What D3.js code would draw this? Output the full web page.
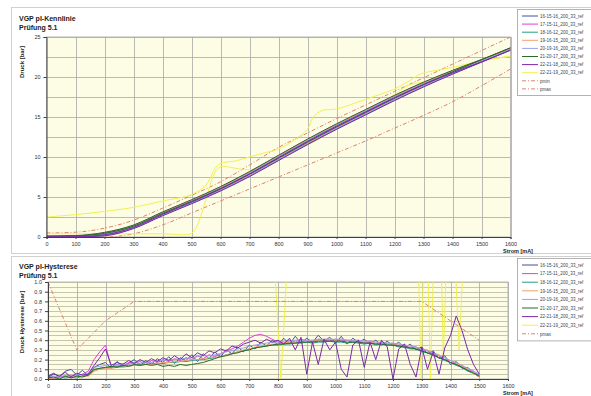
<!DOCTYPE html>
<html>
<head>
<meta charset="utf-8">
<script src="https://cdn.jsdelivr.net/npm/d3@7"></script>
<style>
  body { margin: 0; background: #fff; }
  svg { display: block; font-family: "Liberation Sans", Arial, sans-serif; }
</style>
</head>
<body>
<svg id="chart" width="591" height="396"></svg>
<script>
// ---- data ----
const seriesNames = ["16-15-16_200_33_ref", "17-15-11_200_33_ref", "18-16-12_200_33_ref",
  "19-16-15_200_33_ref", "20-19-16_200_33_ref", "21-20-17_200_33_ref",
  "22-21-18_200_33_ref", "22-21-19_200_33_ref"];
const seriesColors = ["#4050a0", "#e040d8", "#20a080", "#f0a070", "#9aa0e8", "#2a6a2a", "#7a28a8", "#f0f050"];
const limitColor = "#e0806a";

// top chart: pressure [bar] vs current [mA], rising and falling branch
const stromTop = [0, 100, 200, 300, 400, 500, 600, 700, 800, 900, 1000, 1100, 1200, 1300, 1400, 1500, 1600];
const upTop = [
  [0.0, 0.05, 0.3, 1.2, 2.8, 4.3, 5.9, 7.7, 9.7, 11.7, 13.6, 15.4, 17.2, 18.9, 20.5, 22.0, 23.5],
  [0.05, 0.1, 0.4, 1.3, 2.9, 4.4, 6.0, 7.8, 9.8, 11.8, 13.7, 15.5, 17.3, 19.0, 20.6, 22.1, 23.6],
  [0.0, 0.0, 0.2, 1.1, 2.7, 4.2, 5.8, 7.6, 9.6, 11.6, 13.5, 15.3, 17.1, 18.8, 20.4, 21.9, 23.4],
  [0.0, 0.05, 0.3, 1.25, 2.85, 4.35, 5.95, 7.75, 9.75, 11.75, 13.65, 15.45, 17.25, 18.95, 20.55, 22.05, 23.55],
  [0.0, 0.0, 0.25, 1.15, 2.75, 4.25, 5.85, 7.65, 9.65, 11.65, 13.55, 15.35, 17.15, 18.85, 20.45, 21.95, 23.45],
  [0.1, 0.15, 0.45, 1.35, 2.95, 4.45, 6.05, 7.85, 9.85, 11.85, 13.75, 15.55, 17.35, 19.05, 20.65, 22.15, 23.65],
  [0.0, 0.0, 0.15, 1.05, 2.65, 4.15, 5.75, 7.55, 9.55, 11.55, 13.45, 15.25, 17.05, 18.75, 20.35, 21.85, 23.35]
];
const downTop = [
  [0.02, 0.08, 0.43, 1.35, 2.98, 4.51, 6.15, 8.03, 10.07, 12.09, 14.0, 15.78, 17.56, 19.2, 20.68, 22.04, 23.5],
  [0.07, 0.13, 0.53, 1.45, 3.08, 4.61, 6.25, 8.13, 10.17, 12.19, 14.1, 15.88, 17.66, 19.3, 20.78, 22.14, 23.6],
  [0.02, 0.03, 0.33, 1.25, 2.88, 4.41, 6.05, 7.93, 9.97, 11.99, 13.9, 15.68, 17.46, 19.1, 20.58, 21.94, 23.4],
  [0.02, 0.08, 0.43, 1.4, 3.03, 4.56, 6.2, 8.08, 10.12, 12.14, 14.05, 15.83, 17.61, 19.25, 20.73, 22.09, 23.55],
  [0.02, 0.03, 0.38, 1.3, 2.93, 4.46, 6.1, 7.98, 10.02, 12.04, 13.95, 15.73, 17.51, 19.15, 20.63, 21.99, 23.45],
  [0.12, 0.18, 0.58, 1.5, 3.13, 4.66, 6.3, 8.18, 10.22, 12.24, 14.15, 15.93, 17.71, 19.35, 20.83, 22.19, 23.65],
  [0.02, 0.03, 0.28, 1.2, 2.83, 4.36, 6.0, 7.88, 9.92, 11.94, 13.85, 15.63, 17.41, 19.05, 20.53, 21.89, 23.35]
];
// yellow series (22-21-19): [mA, bar]
const yellowUp = [[0, 0.4], [200, 0.4], [400, 0.4], [500, 0.45], [520, 1.5], [540, 3.5], [560, 6.0], [580, 8.0],
  [600, 8.8], [650, 8.6], [700, 8.4], [750, 8.8], [800, 10.0], [850, 11.0], [900, 11.5], [950, 12.5], [1000, 13.6],
  [1100, 15.6], [1200, 17.8], [1250, 19.0], [1300, 19.4], [1400, 20.8], [1500, 22.0], [1600, 22.6]];
const yellowDown = [[1600, 22.6], [1500, 22.0], [1400, 21.2], [1300, 20.5], [1280, 20.2], [1250, 19.5], [1200, 18.5],
  [1100, 17.2], [1000, 16.0], [950, 15.8], [920, 15.0], [900, 13.5], [850, 12.0], [800, 11.0], [750, 10.5],
  [700, 10.0], [650, 9.5], [600, 9.2], [580, 8.5], [550, 6.5], [500, 5.3], [400, 4.5], [300, 3.7], [200, 3.2],
  [100, 2.8], [0, 2.5]];
const pmaxTop = [0.5, 0.6, 1.1, 2.1, 3.6, 5.2, 6.9, 9.0, 11.2, 13.0, 14.8, 16.5, 18.2, 19.9, 21.6, 23.3, 25.0];
const pminTop = [0.0, 0.0, 0.0, 0.4, 1.5, 3.0, 4.5, 6.0, 7.5, 9.0, 10.5, 12.0, 13.6, 15.2, 16.9, 18.9, 21.0];

// bottom chart: hysteresis [bar] every 20 mA from 0 to 1500
const hystStep = 20;
const hyst = [
  [.03,.06,.02,.08,.10,.04,.09,.03,.12,.15, .17,.11,.18,.13,.16,.20,.14,.19,.15,.21,
   .17,.23,.16,.22,.19,.25,.18,.26,.21,.28, .23,.30,.26,.33,.28,.35,.31,.38,.34,.40,
   .35,.42,.36,.44,.37,.42,.38,.45,.39,.43, .37,.44,.36,.42,.38,.41,.36,.40,.35,.39,
   .34,.38,.32,.36,.30,.33,.26,.29,.21,.24, .15,.18,.11,.12,.06,.04],
  [.02,.0,.03,.02,.04,.03,.05,.08,.2,.28, .35,.12,.15,.13,.17,.16,.18,.15,.19,.17,
   .2,.18,.21,.19,.22,.2,.24,.21,.25,.23, .26,.29,.31,.34,.38,.42,.45,.46,.44,.41,
   .38,.37,.40,.38,.41,.39,.38,.41,.40,.39, .41,.39,.40,.38,.39,.37,.39,.36,.38,.36,
   .37,.34,.35,.32,.33,.29,.29,.25,.24,.2, .19,.15,.14,.09,.08,.03],
  [.01,.0,.02,.01,.02,.01,.03,.04,.09,.11, .12,.12,.13,.13,.14,.14,.15,.15,.16,.16,
   .16,.17,.17,.18,.18,.19,.2,.2,.21,.22, .23,.25,.26,.28,.29,.31,.32,.33,.34,.35,
   .35,.36,.36,.37,.37,.38,.37,.38,.38,.39, .38,.38,.37,.38,.37,.36,.37,.35,.36,.35,
   .35,.33,.33,.31,.31,.28,.27,.24,.22,.19, .17,.14,.12,.08,.06,.02],
  [.0,.01,.01,.02,.02,.02,.03,.03,.08,.10, .11,.11,.12,.12,.13,.14,.14,.15,.15,.16,
   .17,.17,.18,.18,.19,.2,.2,.21,.22,.22, .23,.25,.26,.28,.3,.31,.33,.34,.35,.36,
   .36,.37,.38,.38,.39,.39,.4,.4,.41,.41, .4,.41,.4,.4,.39,.39,.38,.38,.37,.37,
   .36,.36,.35,.34,.33,.31,.3,.27,.25,.22, .19,.16,.13,.1,.06,.02],
  [.02,.03,.02,.04,.03,.05,.04,.06,.12,.13, .14,.15,.14,.16,.15,.17,.16,.18,.17,.19,
   .19,.2,.2,.21,.21,.22,.23,.24,.24,.25, .26,.28,.29,.31,.32,.34,.35,.36,.37,.38,
   .38,.39,.39,.4,.4,.4,.4,.41,.41,.41, .41,.41,.4,.4,.4,.39,.39,.38,.38,.37,
   .37,.36,.35,.34,.33,.31,.29,.27,.24,.22, .19,.17,.14,.11,.08,.05],
  [.01,.02,.0,.03,.01,.03,.02,.04,.1,.11, .12,.13,.12,.14,.13,.15,.14,.15,.14,.15,
   .13,.14,.13,.15,.14,.15,.16,.17,.19,.21, .23,.24,.26,.27,.29,.3,.32,.33,.34,.35,
   .36,.36,.37,.37,.38,.38,.38,.39,.39,.39, .39,.39,.38,.38,.38,.37,.37,.36,.36,.35,
   .35,.34,.33,.32,.31,.29,.27,.25,.22,.2, .17,.15,.12,.09,.06,.03],
  [.02,.05,.03,.07,.02,.06,.04,.05,.14,.22, .31,.14,.17,.15,.19,.16,.2,.17,.21,.18,
   .22,.19,.24,.2,.26,.22,.27,.24,.29,.27, .31,.29,.34,.32,.36,.38,.4,.37,.41,.38,
   .4,.36,.42,.3,.43,.05,.38,.15,.41,.3, .38,.1,.02,.35,.4,.12,.38,.2,.4,.33,
   .0,.31,.36,.15,.02,.33,.1,.28,.05,.32, .45,.65,.5,.3,.15,.05]
];
// yellow hysteresis leaves the range, [mA, bar]
const hystYellow = [[0, 3], [780, 1.6], [810, 0.0], [840, 1.6], [1285, 1.6], [1298, 0.0], [1308, 1.6],
  [1318, 1.6], [1330, 0.0], [1345, 1.6], [1365, 1.6], [1375, 0.2], [1390, 1.6], [1410, 1.6], [1430, 0.3],
  [1450, 1.6], [1600, 3]];
const pmaxHyst = [[0, 1.0], [100, 0.3], [200, 0.6], [300, 0.8], [1300, 0.8], [1400, 0.6], [1500, 0.4]];

// ---- drawing ----
const svg = d3.select("#chart");
const font = 5.5;

// outer frames
svg.append("rect").attr("x", 11.5).attr("y", 7.5).attr("width", 590).attr("height", 246)
  .attr("fill", "#fff").attr("stroke", "#d0d0d0");
svg.append("rect").attr("x", 11.5).attr("y", 256.5).attr("width", 590).attr("height", 150)
  .attr("fill", "#fff").attr("stroke", "#d0d0d0");

function drawPanel(cfg) {
  const g = svg.append("g");
  const x = d3.scaleLinear().domain([0, 1600]).range([cfg.left, cfg.right]);
  const y = d3.scaleLinear().domain([0, cfg.ymax]).range([cfg.bottom, cfg.top]);

  g.append("rect").attr("x", cfg.left).attr("y", cfg.top)
    .attr("width", cfg.right - cfg.left).attr("height", cfg.bottom - cfg.top)
    .attr("fill", "#fdfde6").attr("stroke", "#a8a8a8").attr("stroke-width", 0.8);

  // horizontal grid
  g.selectAll(".hg").data(d3.range(0, cfg.ymax + 1e-9, cfg.gridStep)).enter().append("line")
    .attr("x1", cfg.left).attr("x2", cfg.right)
    .attr("y1", d => Math.round(y(d)) + 0.5).attr("y2", d => Math.round(y(d)) + 0.5)
    .attr("stroke", cfg.gridColor).attr("stroke-width", 0.8);
  // vertical grid
  g.selectAll(".vg").data(d3.range(100, 1601, 100)).enter().append("line")
    .attr("y1", cfg.top).attr("y2", cfg.bottom)
    .attr("x1", d => Math.round(x(d)) + 0.5).attr("x2", d => Math.round(x(d)) + 0.5)
    .attr("stroke", "#a8a8a8").attr("stroke-width", 0.8);

  const clipId = "clip" + Math.round(cfg.top);
  svg.append("clipPath").attr("id", clipId).append("rect")
    .attr("x", cfg.left).attr("y", cfg.top).attr("width", cfg.right - cfg.left).attr("height", cfg.bottom - cfg.top);
  const plot = g.append("g").attr("clip-path", `url(#${clipId})`);

  // axes
  const xAxis = d3.axisBottom(x).tickValues(d3.range(0, 1601, 100)).tickSize(2).tickFormat(d3.format("d"));
  const ax = g.append("g").attr("transform", `translate(0,${cfg.bottom})`).call(xAxis);
  const yAxis = d3.axisLeft(y).tickValues(d3.range(0, cfg.ymax + 1e-9, cfg.labelStep)).tickSize(3)
    .tickFormat(cfg.fmt);
  const ay = g.append("g").attr("transform", `translate(${cfg.left},0)`).call(yAxis);
  [ax, ay].forEach(a => {
    a.select(".domain").attr("stroke", "#404040");
    a.selectAll(".tick line").attr("stroke", "#404040");
    a.selectAll("text").attr("font-size", font).attr("fill", "#333").attr("font-family", "Liberation Sans, Arial");
  });

  // titles
  svg.append("text").attr("x", 19).attr("y", cfg.titleY).attr("font-size", 7).attr("font-weight", "bold")
    .attr("fill", "#222").text(cfg.title);
  svg.append("text").attr("x", 19).attr("y", cfg.titleY + 9).attr("font-size", 7).attr("font-weight", "bold")
    .attr("fill", "#222").text("Prüfung 5.1");
  svg.append("text").attr("transform", `translate(24,${cfg.yLabelY}) rotate(-90)`).attr("text-anchor", "middle")
    .attr("font-size", 6).attr("font-weight", "bold").attr("fill", "#222").text(cfg.yLabel);
  svg.append("text").attr("x", cfg.xLabelX).attr("y", cfg.xLabelY).attr("font-size", 5.5).attr("font-weight", "bold")
    .attr("fill", "#222").text("Strom [mA]");

  return { x, y, plot };
}

// top panel
const topP = drawPanel({
  left: 46.5, right: 510.5, top: 37, bottom: 237, ymax: 25, gridStep: 2.5, labelStep: 5,
  gridColor: "#a8a8a8", fmt: d3.format("d"), title: "VGP pI-Kennlinie", titleY: 21,
  yLabel: "Druck [bar]", yLabelY: 62, xLabelX: 503, xLabelY: 253
});
const lineTop = d3.line().x(d => topP.x(d[0])).y(d => topP.y(d[1])).curve(d3.curveMonotoneX);
const lineTopAny = d3.line().x(d => topP.x(d[0])).y(d => topP.y(d[1])).curve(d3.curveCatmullRom);

topP.plot.append("path").attr("d", lineTop(stromTop.map((s, i) => [s, pminTop[i]])))
  .attr("fill", "none").attr("stroke", limitColor).attr("stroke-width", 1).attr("stroke-dasharray", "4,2,1,2");
topP.plot.append("path").attr("d", lineTop(stromTop.map((s, i) => [s, pmaxTop[i]])))
  .attr("fill", "none").attr("stroke", limitColor).attr("stroke-width", 1).attr("stroke-dasharray", "4,2,1,2");
topP.plot.append("path").attr("d", lineTopAny(yellowUp)).attr("fill", "none")
  .attr("stroke", seriesColors[7]).attr("stroke-width", 1);
topP.plot.append("path").attr("d", lineTopAny(yellowDown)).attr("fill", "none")
  .attr("stroke", seriesColors[7]).attr("stroke-width", 1);
upTop.forEach((up, k) => {
  [up, downTop[k]].forEach(vals => {
    topP.plot.append("path").attr("d", lineTop(stromTop.map((s, i) => [s, vals[i]])))
      .attr("fill", "none").attr("stroke", seriesColors[k]).attr("stroke-width", 1);
  });
});

// bottom panel
const botP = drawPanel({
  left: 48, right: 508, top: 282, bottom: 379, ymax: 1, gridStep: 0.05, labelStep: 0.1,
  gridColor: "#b8b8a0", fmt: d3.format(".1f"), title: "VGP pI-Hysterese", titleY: 269,
  yLabel: "Druck Hysterese [bar]", yLabelY: 322, xLabelX: 503, xLabelY: 395
});
const lineBot = d3.line().x(d => botP.x(d[0])).y(d => botP.y(d[1]));
botP.plot.append("path").attr("d", lineBot(hystYellow)).attr("fill", "none")
  .attr("stroke", seriesColors[7]).attr("stroke-width", 1);
hyst.forEach((vals, k) => {
  botP.plot.append("path").attr("d", lineBot(vals.map((v, i) => [i * hystStep, v])))
    .attr("fill", "none").attr("stroke", seriesColors[k]).attr("stroke-width", 1);
});
botP.plot.append("path").attr("d", lineBot(pmaxHyst)).attr("fill", "none")
  .attr("stroke", limitColor).attr("stroke-width", 1).attr("stroke-dasharray", "4,2,1,2");

// legends
function legend(y0, step, entries) {
  const g = svg.append("g");
  g.append("rect").attr("x", 517.5).attr("y", y0 - 6.5).attr("width", 80).attr("height", step * entries.length + 5)
    .attr("fill", "#fff").attr("stroke", "#a0a0a0").attr("stroke-width", 0.8);
  entries.forEach((e, i) => {
    const yy = y0 + i * step;
    g.append("line").attr("x1", 522).attr("x2", 538).attr("y1", yy).attr("y2", yy)
      .attr("stroke", e.color).attr("stroke-width", 1)
      .attr("stroke-dasharray", e.dash ? "4,2,1,2" : null);
    g.append("text").attr("x", 540).attr("y", yy + 1.7).attr("font-size", 4.5).attr("fill", "#444").text(e.name);
  });
}
const seriesEntries = seriesNames.map((n, i) => ({ name: n, color: seriesColors[i] }));
legend(16, 8.1, seriesEntries.concat([{ name: "pmin", color: limitColor, dash: true },
  { name: "pmax", color: limitColor, dash: true }]));
legend(265, 8.6, seriesEntries.concat([{ name: "pmax", color: limitColor, dash: true }]));
</script>
</body>
</html>
